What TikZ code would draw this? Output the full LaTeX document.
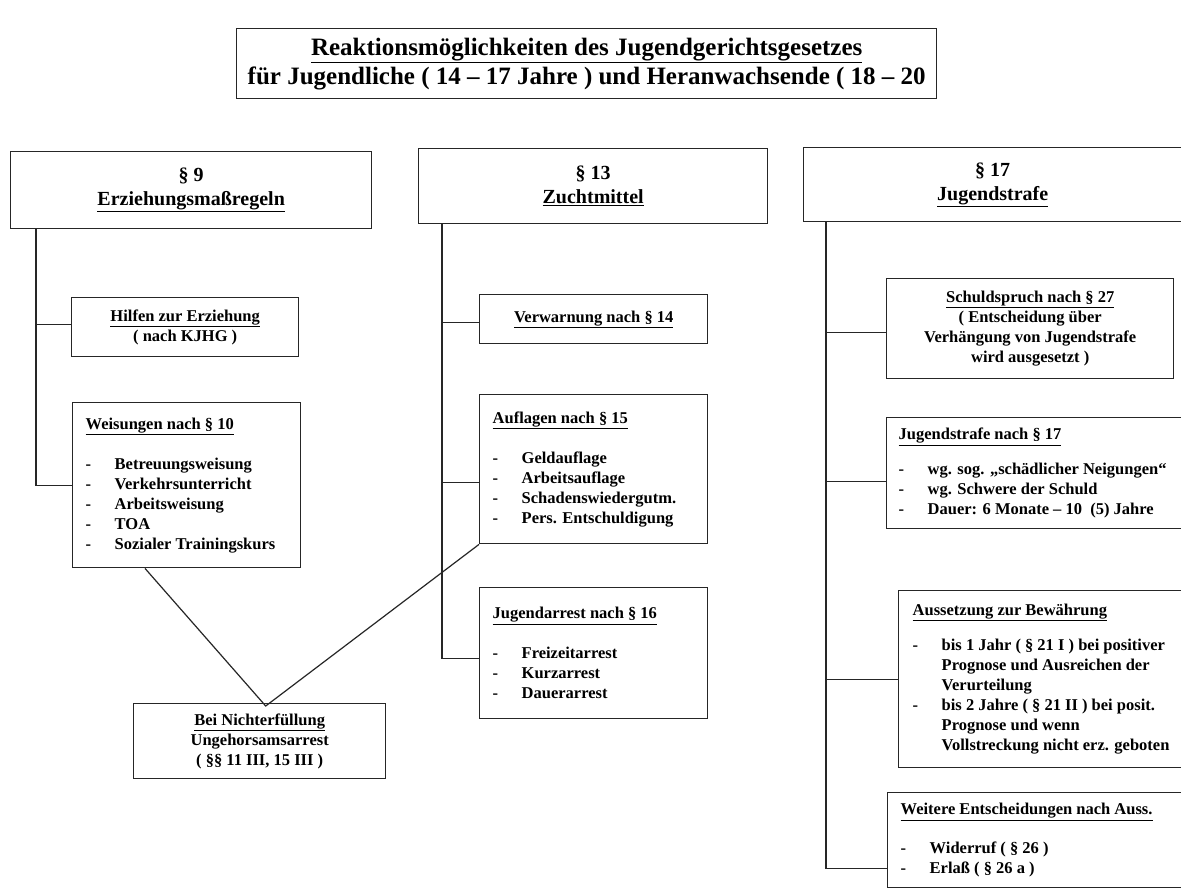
\documentclass[tikz,border=0pt]{standalone}
\usepackage{fontspec}
\setmainfont{Liberation Serif}
\usepackage{tikz}

\newcommand{\dashitem}[1]{\makebox[29pt][l]{-}#1}
\newcommand{\dashcont}[1]{\hspace*{29pt}#1}

\begin{document}
\begin{tikzpicture}[x=1pt, y=-1pt,
  box/.style={draw=black!85, line width=1.4pt, anchor=north west, inner sep=0pt, align=center,
    font=\bfseries\fontsize{16.5}{20}\selectfont},
  listbox/.style={box, align=flush left, inner xsep=13pt},
  headbox/.style={box, font=\bfseries\fontsize{20}{24}\selectfont},
  link/.style={draw=black!85, line width=1.2pt}]
\path[use as bounding box, fill=white] (0,0) rectangle (1181,887);

\node[box, font=\bfseries\fontsize{25}{29}\selectfont, minimum width=700pt, minimum height=70pt] (titel) at (236,28)
  {\underline{Reaktionsmöglichkeiten des Jugendgerichtsgesetzes}\\ für Jugendliche ( 14 – 17 Jahre ) und Heranwachsende ( 18 – 20};

\node[headbox, minimum width=361pt, minimum height=77pt] (h9) at (10,151) {§ 9\\ \underline{Erziehungsmaßregeln}};
\node[headbox, minimum width=349pt, minimum height=75pt] (h13) at (418,148) {§ 13\\ \underline{Zuchtmittel}};
\node[headbox, minimum width=378pt, minimum height=74pt] (h17) at (803,147) {§ 17\\ \underline{Jugendstrafe}};

% Erziehungsmassregeln
\node[box, minimum width=227pt, minimum height=59pt] (hilfe) at (71,297) {\underline{Hilfen zur Erziehung}\\ ( nach KJHG )};
\node[listbox, text width=202pt, minimum height=165pt] (weis) at (72,402)
  {\underline{Weisungen nach § 10}\\[20pt]
   \dashitem{Betreuungsweisung}\\ \dashitem{Verkehrsunterricht}\\ \dashitem{Arbeitsweisung}\\
   \dashitem{TOA}\\ \dashitem{Sozialer Trainingskurs}};
\node[box, minimum width=252pt, minimum height=75pt] (bei) at (133,703)
  {\underline{Bei Nichterfüllung}\\ Ungehorsamsarrest\\ ( §§ 11 III, 15 III )};

% Zuchtmittel
\node[box, minimum width=228pt, minimum height=49pt] (verw) at (479,294) {\underline{Verwarnung nach § 14}};
\node[listbox, text width=202pt, minimum height=149pt] (aufl) at (479,394)
  {\underline{Auflagen nach § 15}\\[20pt]
   \dashitem{Geldauflage}\\ \dashitem{Arbeitsauflage}\\ \dashitem{Schadenswiedergutm.}\\
   \dashitem{Pers. Entschuldigung}\\[6pt]};
\node[listbox, text width=202pt, minimum height=131pt] (arrest) at (479,587)
  {\underline{Jugendarrest nach § 16}\\[20pt]
   \dashitem{Freizeitarrest}\\ \dashitem{Kurzarrest}\\ \dashitem{Dauerarrest}\\[6pt]};

% Jugendstrafe
\node[box, minimum width=287pt, minimum height=100pt] (schuld) at (886,278)
  {\underline{Schuldspruch nach § 27}\\ ( Entscheidung über\\ Verhängung von Jugendstrafe\\ wird ausgesetzt )};
\node[listbox, inner xsep=12pt, text width=300pt, minimum height=111pt] (strafe) at (886,417)
  {\underline{Jugendstrafe nach § 17}\\[15pt]
   \dashitem{wg. sog. „schädlicher Neigungen“}\\ \dashitem{wg. Schwere der Schuld}\\
   \dashitem{Dauer: 6 Monate – 10~ (5) Jahre}};
\node[listbox, inner xsep=14pt, text width=300pt, minimum height=177pt] (auss) at (898,590)
  {\underline{Aussetzung zur Bewährung}\\[15pt]
   \dashitem{bis 1 Jahr ( § 21 I ) bei positiver}\\ \dashcont{Prognose und Ausreichen der}\\
   \dashcont{Verurteilung}\\ \dashitem{bis 2 Jahre ( § 21 II ) bei posit.}\\
   \dashcont{Prognose und wenn}\\ \dashcont{Vollstreckung nicht erz. geboten}};
\node[listbox, text width=300pt, minimum height=95pt] (weitere) at (887,792)
  {\underline{Weitere Entscheidungen nach Auss.}\\[19pt]
   \dashitem{Widerruf ( § 26 )}\\ \dashitem{Erlaß ( § 26 a )}};

\draw[link] ([xshift=26pt]h9.south west) coordinate (t9) |- (weis.west);
\draw[link] ([yshift=3pt]hilfe.west) -- ([yshift=3pt]hilfe.west -| t9);

\draw[link] ([xshift=24pt]h13.south west) coordinate (t13) |- ([yshift=-5pt]arrest.west);
\draw[link] ([yshift=-3pt]verw.west) -- ([yshift=-3pt]verw.west -| t13);
\draw[link] ([yshift=-13pt]aufl.west) -- ([yshift=-13pt]aufl.west -| t13);

\draw[link] ([xshift=23pt]h17.south west) coordinate (t17) |- ([yshift=20pt]weitere.south west);
\draw[link] ([yshift=-4pt]schuld.west) -- ([yshift=-4pt]schuld.west -| t17);
\draw[link] ([yshift=-8pt]strafe.west) -- ([yshift=-8pt]strafe.west -| t17);
\draw[link] (auss.west) -- (auss.west -| t17);

\draw[link] ([xshift=73pt]weis.south west) -- ([xshift=6pt,yshift=-3pt]bei.north) -- (aufl.south west);
\end{tikzpicture}
\end{document}
